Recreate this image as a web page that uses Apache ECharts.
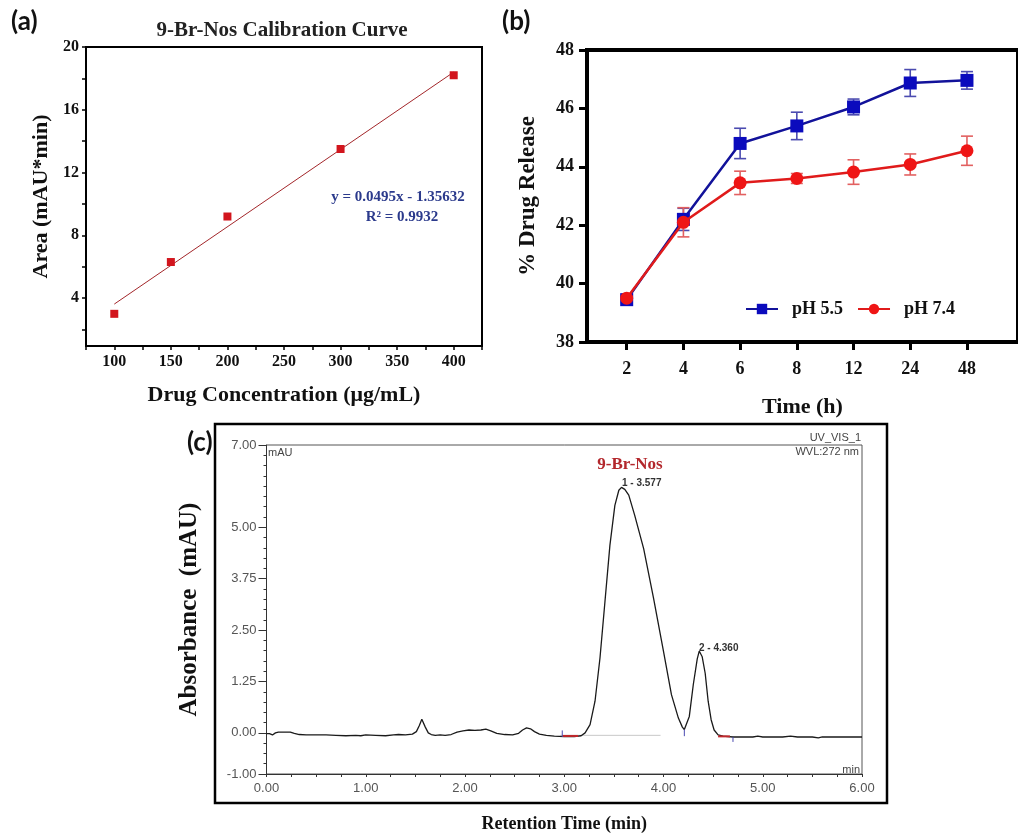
<!DOCTYPE html>
<html><head><meta charset="utf-8">
<script src="https://cdn.jsdelivr.net/npm/echarts@6/dist/echarts.min.js"></script>
<style>html,body{margin:0;padding:0;background:#fff}#c{width:1018px;height:834px}</style>
</head><body><div id="c"></div>
<script>
// ---- Panel (a): calibration curve ----
const concX = [100, 150, 200, 300, 400];
const areaY = [3.0, 6.3, 9.2, 13.5, 18.2];
const fitX = [100, 400];
const fitY = [3.62, 18.4];
const aYTicks = [2, 4, 6, 8, 10, 12, 14, 16, 18, 20];
const aYLabels = [4, 8, 12, 16, 20];

// ---- Panel (b): drug release ----
const timeLabels = ['2', '4', '6', '8', '12', '24', '48'];
const release55 = [39.45, 42.2, 44.8, 45.4, 46.05, 46.87, 46.96];
const err55 = [0.1, 0.38, 0.52, 0.47, 0.27, 0.46, 0.3];
const release74 = [39.5, 42.1, 43.45, 43.6, 43.82, 44.08, 44.55];
const err74 = [0.1, 0.5, 0.4, 0.17, 0.42, 0.36, 0.5];

// ---- Panel (c): chromatogram ----
const chromTime = [0.00,0.03,0.06,0.09,0.12,0.18,0.24,0.28,0.33,0.40,0.50,0.60,0.70,0.80,0.90,0.95,1.00,1.10,1.20,1.28,1.33,1.40,1.47,1.51,1.54,1.565,1.58,1.60,1.63,1.66,1.70,1.75,1.80,1.86,1.92,1.98,2.04,2.10,2.16,2.21,2.26,2.32,2.40,2.48,2.54,2.58,2.62,2.66,2.70,2.75,2.82,2.90,3.00,3.10,3.17,3.21,3.26,3.31,3.36,3.41,3.46,3.51,3.55,3.577,3.61,3.65,3.71,3.80,3.90,4.00,4.08,4.15,4.19,4.21,4.23,4.26,4.30,4.34,4.36,4.39,4.42,4.45,4.48,4.51,4.55,4.60,4.70,4.80,4.90,4.95,5.00,5.10,5.20,5.28,5.35,5.50,5.56,5.60,5.80,6.00];
const chromAbs  = [-0.02,-0.02,-0.05,0.00,0.02,0.02,0.02,-0.01,-0.04,-0.05,-0.05,-0.05,-0.06,-0.07,-0.06,-0.07,-0.05,-0.06,-0.07,-0.05,-0.04,-0.05,-0.03,0.03,0.18,0.33,0.30,0.14,0.00,-0.04,-0.06,-0.05,-0.06,-0.04,0.02,0.05,0.07,0.06,0.07,0.09,0.05,-0.01,-0.04,-0.05,-0.01,0.07,0.12,0.10,0.03,-0.03,-0.06,-0.08,-0.09,-0.09,-0.07,0.00,0.20,0.77,1.82,3.19,4.56,5.53,5.90,5.97,5.92,5.78,5.29,4.48,3.27,1.98,0.93,0.36,0.14,0.08,0.12,0.40,1.17,1.80,1.99,1.85,1.45,0.77,0.32,0.07,-0.05,-0.08,-0.10,-0.10,-0.10,-0.08,-0.10,-0.10,-0.10,-0.08,-0.10,-0.10,-0.12,-0.10,-0.10,-0.10];
const cYLabels = [-1, 0, 1.25, 2.5, 3.75, 5, 7];
const intBaseX = [2.96, 3.97];
const intBaseY = [-0.06, -0.06];
const redSeg1X = [2.98, 3.14];
const redSeg1Y = [-0.075, -0.075];
const redSeg2X = [4.55, 4.67];
const redSeg2Y = [-0.085, -0.085];
const blueTickX = [2.98, 4.21, 4.70];
const blueTickLo = [-0.1, -0.08, -0.22];
const blueTickHi = [0.06, 0.08, -0.1];

const SERIF = "'Liberation Serif','Times New Roman',serif";
const SANS = "'Liberation Sans',Arial,sans-serif";

function pairs(xs, ys) { return xs.map((x, i) => [x, ys[i]]); }

function errRender(color) {
  return function (params, api) {
    const x = api.value(0), lo = api.value(1), hi = api.value(2);
    const p1 = api.coord([x, lo]), p2 = api.coord([x, hi]);
    const w = 6;
    const st = { stroke: color, lineWidth: 1.6 };
    return { type: 'group', children: [
      { type: 'line', shape: { x1: p1[0], y1: p1[1], x2: p2[0], y2: p2[1] }, style: st },
      { type: 'line', shape: { x1: p1[0] - w, y1: p1[1], x2: p1[0] + w, y2: p1[1] }, style: st },
      { type: 'line', shape: { x1: p2[0] - w, y1: p2[1], x2: p2[0] + w, y2: p2[1] }, style: st }
    ] };
  };
}
function tickRender(color) {
  return function (params, api) {
    const p1 = api.coord([api.value(0), api.value(1)]), p2 = api.coord([api.value(0), api.value(2)]);
    return { type: 'line', shape: { x1: p1[0], y1: p1[1], x2: p2[0], y2: p2[1] }, style: { stroke: color, lineWidth: 1 } };
  };
}

const chart = echarts.init(document.getElementById('c'), null, { renderer: 'canvas' });

const option = {
  backgroundColor: '#fff',
  animation: false,
  grid: [
    { left: 86, top: 47, width: 396, height: 299, show: true, borderColor: '#000', borderWidth: 2, backgroundColor: 'transparent' },
    { left: 587, top: 50, width: 438, height: 292, show: true, borderColor: '#000', borderWidth: 4, backgroundColor: 'transparent' },
    { left: 266.5, top: 445, width: 595.5, height: 332, show: true, borderColor: '#555', borderWidth: 1, backgroundColor: 'transparent' }
  ],
  xAxis: [
    { gridIndex: 0, type: 'value', min: 75, max: 425, interval: 25, position: 'bottom',
      axisLine: { onZero: false, lineStyle: { color: '#000', width: 2 } },
      axisTick: { inside: false, length: 4, lineStyle: { color: '#000', width: 1.5 } },
      axisLabel: { fontFamily: SERIF, fontWeight: 'bold', fontSize: 16, color: '#111', margin: 8,
        formatter: v => (v >= 100 && v <= 400 && v % 50 === 0) ? String(v) : '' },
      splitLine: { show: false },
      name: 'Drug Concentration (\u03bcg/mL)', nameLocation: 'middle', nameGap: 38,
      nameTextStyle: { fontFamily: SERIF, fontWeight: 'bold', fontSize: 22, color: '#111' } },
    { gridIndex: 1, type: 'value', min: -0.7, max: 6.9, position: 'bottom',
      axisLine: { onZero: false, lineStyle: { color: '#000', width: 4 } },
      axisTick: { customValues: [0, 1, 2, 3, 4, 5, 6], length: 8, lineStyle: { color: '#000', width: 3 } },
      axisLabel: { customValues: [0, 1, 2, 3, 4, 5, 6], formatter: v => timeLabels[Math.round(v)],
        fontFamily: SERIF, fontWeight: 'bold', fontSize: 18, color: '#111', margin: 18 },
      splitLine: { show: false },
      name: 'Time (h)', nameLocation: 'middle', nameGap: 54,
      nameTextStyle: { fontFamily: SERIF, fontWeight: 'bold', fontSize: 22, color: '#111' } },
    { gridIndex: 2, type: 'value', min: 0, max: 6, interval: 0.25, position: 'bottom',
      axisLine: { onZero: false, lineStyle: { color: '#333', width: 1 } },
      axisTick: { length: 3, lineStyle: { color: '#333', width: 1 } },
      axisLabel: { fontFamily: SANS, fontSize: 13, color: '#555', margin: 8,
        formatter: v => (Math.abs(v - Math.round(v)) < 1e-6) ? v.toFixed(2) : '' },
      splitLine: { show: false },
      name: 'Retention Time (min)', nameLocation: 'middle', nameGap: 41,
      nameTextStyle: { fontFamily: SERIF, fontWeight: 'bold', fontSize: 18, color: '#111' } }
  ],
  yAxis: [
    { gridIndex: 0, type: 'value', min: 0.95, max: 20, position: 'left',
      axisLine: { onZero: false, lineStyle: { color: '#000', width: 2 } },
      axisTick: { customValues: aYTicks, length: 4, lineStyle: { color: '#000', width: 1.5 } },
      axisLabel: { customValues: aYLabels, fontFamily: SERIF, fontWeight: 'bold', fontSize: 16, color: '#111', margin: 7 },
      splitLine: { show: false },
      name: 'Area (mAU*min)', nameLocation: 'middle', nameGap: 34,
      nameTextStyle: { fontFamily: SERIF, fontWeight: 'bold', fontSize: 22, color: '#111' } },
    { gridIndex: 1, type: 'value', min: 38, max: 48, interval: 2, position: 'left',
      axisLine: { onZero: false, lineStyle: { color: '#000', width: 4 } },
      axisTick: { length: 8, lineStyle: { color: '#000', width: 3 } },
      axisLabel: { fontFamily: SERIF, fontWeight: 'bold', fontSize: 18, color: '#111', margin: 13 },
      splitLine: { show: false },
      name: '% Drug Release', nameLocation: 'middle', nameGap: 47,
      nameTextStyle: { fontFamily: SERIF, fontWeight: 'bold', fontSize: 23, color: '#111' } },
    { gridIndex: 2, type: 'value', min: -1, max: 7, interval: 0.25, position: 'left',
      axisLine: { onZero: false, lineStyle: { color: '#333', width: 1 } },
      axisTick: { length: 3, lineStyle: { color: '#333', width: 1 } },
      axisLabel: { show: false }, splitLine: { show: false },
      name: 'Absorbance  (mAU)', nameLocation: 'middle', nameGap: 64,
      nameTextStyle: { fontFamily: SERIF, fontWeight: 'bold', fontSize: 25, color: '#111' } },
    { gridIndex: 2, type: 'value', min: -1, max: 7, position: 'left', offset: 0,
      axisLine: { show: false, onZero: false },
      axisTick: { customValues: cYLabels, length: 8, lineStyle: { color: '#333', width: 1 } },
      axisLabel: { customValues: cYLabels, formatter: v => v.toFixed(2), fontFamily: SANS, fontSize: 13, color: '#555', margin: 10 },
      splitLine: { show: false } }
  ],
  legend: {
    data: ['pH 5.5', 'pH 7.4'], left: 740, top: 295, itemWidth: 32, itemHeight: 13, itemGap: 14,
    textStyle: { fontFamily: SERIF, fontWeight: 'bold', fontSize: 18, color: '#111', padding: [0, 0, 0, 9] }
  },
  series: [
    // (a)
    { type: 'line', xAxisIndex: 0, yAxisIndex: 0, data: pairs(fitX, fitY), showSymbol: false, symbol: 'none',
      lineStyle: { color: '#a3262a', width: 1 }, z: 2 },
    { type: 'scatter', xAxisIndex: 0, yAxisIndex: 0, data: pairs(concX, areaY), symbol: 'rect', symbolSize: 8,
      itemStyle: { color: '#d2151d', opacity: 1 }, z: 3 },
    // (b)
    { type: 'custom', name: 'err55', xAxisIndex: 1, yAxisIndex: 1, renderItem: errRender('#4b4bb0'),
      data: release55.map((v, i) => [i, v - err55[i], v + err55[i]]), encode: { x: 0, y: [1, 2] }, z: 2 },
    { type: 'custom', name: 'err74', xAxisIndex: 1, yAxisIndex: 1, renderItem: errRender('#e26060'),
      data: release74.map((v, i) => [i, v - err74[i], v + err74[i]]), encode: { x: 0, y: [1, 2] }, z: 2 },
    { type: 'line', name: 'pH 5.5', xAxisIndex: 1, yAxisIndex: 1, data: release55.map((v, i) => [i, v]),
      symbol: 'rect', symbolSize: 13, lineStyle: { color: '#12129a', width: 2.5 }, itemStyle: { color: '#0b0bbd' }, z: 3 },
    { type: 'line', name: 'pH 7.4', xAxisIndex: 1, yAxisIndex: 1, data: release74.map((v, i) => [i, v]),
      symbol: 'circle', symbolSize: 13, lineStyle: { color: '#e01b1b', width: 2.5 }, itemStyle: { color: '#ef1515' }, z: 4 },
    // (c)
    { type: 'line', xAxisIndex: 2, yAxisIndex: 2, data: pairs(intBaseX, intBaseY), symbol: 'none',
      lineStyle: { color: '#c8c8c8', width: 1 }, z: 1 },
    { type: 'line', xAxisIndex: 2, yAxisIndex: 2, data: pairs(chromTime, chromAbs), symbol: 'none',
      lineStyle: { color: '#1a1a1a', width: 1.3 }, z: 2 },
    { type: 'line', xAxisIndex: 2, yAxisIndex: 2, data: pairs(redSeg1X, redSeg1Y), symbol: 'none',
      lineStyle: { color: '#c0282c', width: 2 }, z: 3 },
    { type: 'line', xAxisIndex: 2, yAxisIndex: 2, data: pairs(redSeg2X, redSeg2Y), symbol: 'none',
      lineStyle: { color: '#c0282c', width: 2 }, z: 3 },
    { type: 'custom', xAxisIndex: 2, yAxisIndex: 2, renderItem: tickRender('#4a4ab0'),
      data: blueTickX.map((x, i) => [x, blueTickLo[i], blueTickHi[i]]), encode: { x: 0, y: [1, 2] }, z: 4 }
  ],
  graphic: [
    { type: 'text', left: 11, top: 9, style: { text: '(a)', font: "bold 26px Lato, 'Open Sans', sans-serif", fill: '#111' } },
    { type: 'text', left: 502, top: 9, style: { text: '(b)', font: "bold 26px Lato, 'Open Sans', sans-serif", fill: '#111' } },
    { type: 'text', left: 187, top: 430, style: { text: '(c)', font: "bold 26px Lato, 'Open Sans', sans-serif", fill: '#111' } },
    { type: 'text', x: 282, y: 31, style: { text: '9-Br-Nos Calibration Curve', font: 'bold 21px ' + SERIF, fill: '#222', align: 'center', verticalAlign: 'middle' } },
    { type: 'text', x: 398, y: 197, style: { text: 'y = 0.0495x - 1.35632', font: 'bold 15px ' + SERIF, fill: '#2b3a8c', align: 'center', verticalAlign: 'middle' } },
    { type: 'text', x: 402, y: 217, style: { text: 'R\u00b2 = 0.9932', font: 'bold 15px ' + SERIF, fill: '#2b3a8c', align: 'center', verticalAlign: 'middle' } },
    { type: 'rect', shape: { x: 215, y: 424, width: 672, height: 379 }, style: { fill: 'none', stroke: '#000', lineWidth: 2.5 }, z: 10 },
    { type: 'text', x: 268, y: 453, style: { text: 'mAU', font: '11px ' + SANS, fill: '#444', align: 'left', verticalAlign: 'middle' } },
    { type: 'text', x: 861, y: 438, style: { text: 'UV_VIS_1', font: '11px ' + SANS, fill: '#444', align: 'right', verticalAlign: 'middle' } },
    { type: 'text', x: 859, y: 452, style: { text: 'WVL:272 nm', font: '11px ' + SANS, fill: '#444', align: 'right', verticalAlign: 'middle' } },
    { type: 'text', x: 630, y: 465, style: { text: '9-Br-Nos', font: 'bold 17px ' + SERIF, fill: '#b3272c', align: 'center', verticalAlign: 'middle' } },
    { type: 'text', x: 622, y: 483, style: { text: '1 - 3.577', font: 'bold 10px ' + SANS, fill: '#333', align: 'left', verticalAlign: 'middle' } },
    { type: 'text', x: 699, y: 648, style: { text: '2 - 4.360', font: 'bold 10px ' + SANS, fill: '#333', align: 'left', verticalAlign: 'middle' } },
    { type: 'text', x: 860, y: 770, style: { text: 'min', font: '11px ' + SANS, fill: '#444', align: 'right', verticalAlign: 'middle' } }
  ]
};
chart.setOption(option);
</script></body></html>
